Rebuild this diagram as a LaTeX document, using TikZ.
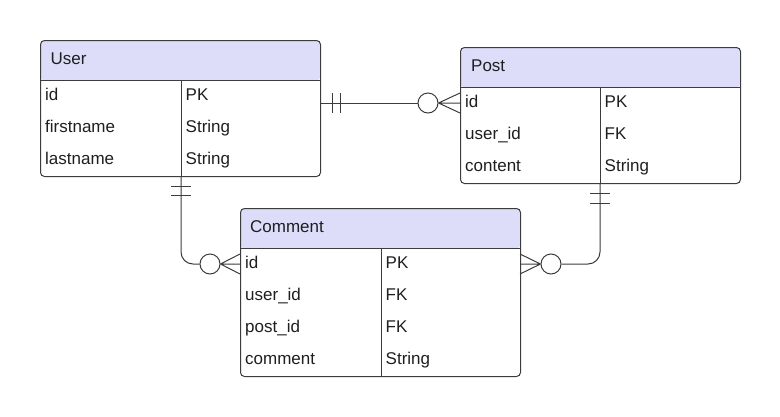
\documentclass[tikz,border=0pt]{standalone}
\usepackage{fontspec}
\setmainfont{Liberation Sans}
\definecolor{hdr}{RGB}{221,221,250}
\definecolor{ln}{RGB}{60,60,60}
\begin{document}
\begin{tikzpicture}[x=1pt,y=-1pt,
  every node/.style={font=\fontsize{17}{20}\selectfont, text=black!88},
  entity/.style={draw=ln, line width=1pt, rounded corners=4pt, fill=white, inner sep=0pt, anchor=north west,
    minimum width=280pt,
    path picture={\fill[hdr] (path picture bounding box.north west) rectangle ([yshift=-40pt]path picture bounding box.north east);}},
  txt/.style={anchor=base west, inner sep=0pt},
  conn/.style={draw=ln, line width=1pt},
  ring/.style={circle, draw=ln, line width=1pt, fill=white, minimum size=20pt, inner sep=0pt}]
\useasboundingbox (0,0) rectangle (780,416);

% ---------- User ----------
\node[entity, minimum height=136pt] (user) at (40,40) {};
\draw[ln, line width=1pt] (40,80) -- (320,80) (181,80) -- (181,176);
\node[txt] (userT) at (50.5,64.3) {User};
\node[txt] (u1a) at (45,100.3) {id};
\node[txt] (u1b) at (185.5,100.3) {PK};
\node[txt] (u2a) at (45,132.3) {firstname};
\node[txt] (u2b) at (185.5,132.3) {String};
\node[txt] (u3a) at (45,164.3) {lastname};
\node[txt] (u3b) at (185.5,164.3) {String};

% ---------- Post ----------
\node[entity, minimum height=136pt] (post) at (460,47) {};
\draw[ln, line width=1pt] (460,87) -- (740,87) (600,87) -- (600,183);
\node[txt] (postT) at (471,71.3) {Post};
\node[txt] (p1a) at (465,107.3) {id};
\node[txt] (p1b) at (604.5,107.3) {PK};
\node[txt] (p2a) at (465,139.3) {user\_id};
\node[txt] (p2b) at (604.5,139.3) {FK};
\node[txt] (p3a) at (465,171.3) {content};
\node[txt] (p3b) at (604.5,171.3) {String};

% ---------- Comment ----------
\node[entity, minimum height=168pt] (comment) at (240,208) {};
\draw[ln, line width=1pt] (240,248) -- (520,248) (381,248) -- (381,376);
\node[txt] (cT) at (250,232.3) {Comment};
\node[txt] (c1a) at (245,268.3) {id};
\node[txt] (c1b) at (385.5,268.3) {PK};
\node[txt] (c2a) at (245,300.3) {user\_id};
\node[txt] (c2b) at (385.5,300.3) {FK};
\node[txt] (c3a) at (245,332.3) {post\_id};
\node[txt] (c3b) at (385.5,332.3) {FK};
\node[txt] (c4a) at (245,364.3) {comment};
\node[txt] (c4b) at (385.5,364.3) {String};

% ---------- connector anchors ----------
\coordinate (upS) at (320,103);
\coordinate (upE) at (460,103);
\coordinate (ucS) at (181,176);
\coordinate (ucE) at (240,264);
\coordinate (pcS) at (600,183);
\coordinate (pcE) at (520,264);

% ---------- User -- Post ----------
\node[ring] (r1) at (428,103) {};
\draw[conn] (upS) -- (r1.west);
\draw[conn] (332,93) -- (332,113) (340,93) -- (340,113);
\draw[conn] (r1.east) -- (upE) (r1.east) -- ([yshift=-10pt]upE) (r1.east) -- ([yshift=10pt]upE);

% ---------- User -- Comment ----------
\node[ring] (r2) at (210,264) {};
\draw[conn, rounded corners=12pt] (ucS) -- (181,264) -- (r2.west);
\draw[conn] (171,186) -- (191,186) (171,195) -- (191,195);
\draw[conn] (r2.east) -- (ucE) (r2.east) -- ([yshift=-10pt]ucE) (r2.east) -- ([yshift=10pt]ucE);

% ---------- Post -- Comment ----------
\node[ring] (r3) at (551,264) {};
\draw[conn, rounded corners=12pt] (pcS) -- (600,264) -- (r3.east);
\draw[conn] (590,193) -- (610,193) (590,203) -- (610,203);
\draw[conn] (r3.west) -- (pcE) (r3.west) -- ([yshift=-10pt]pcE) (r3.west) -- ([yshift=10pt]pcE);
\end{tikzpicture}
\end{document}
